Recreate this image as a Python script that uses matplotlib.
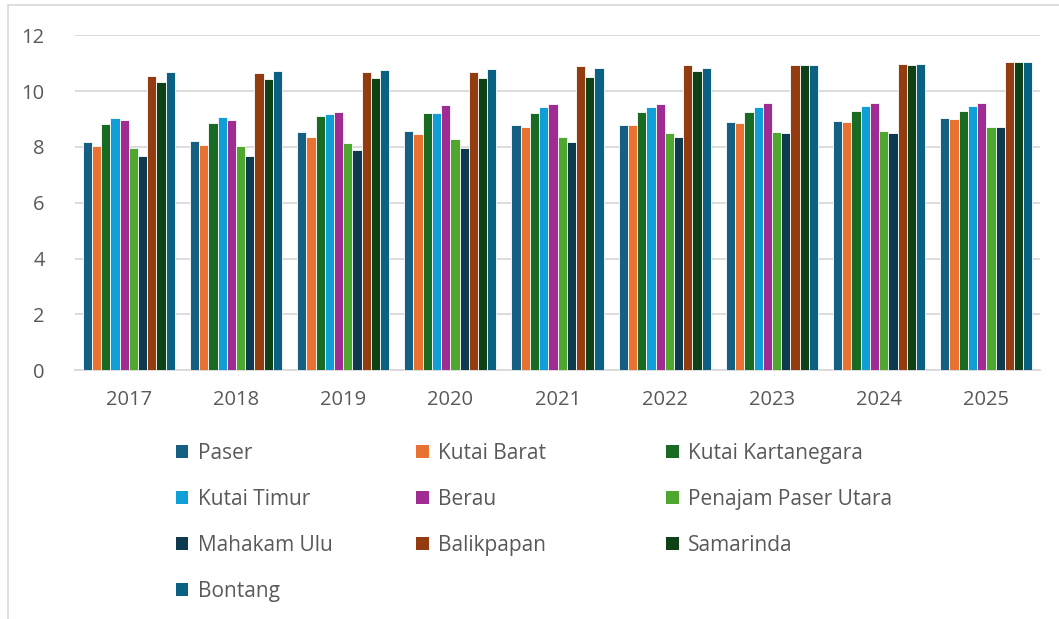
import numpy as np
import matplotlib
matplotlib.use("Agg")
import matplotlib.pyplot as plt
from matplotlib.patches import Patch, Rectangle

plt.rcParams["font.family"] = ["Open Sans", "DejaVu Sans"]

years = ["2017", "2018", "2019", "2020", "2021", "2022", "2023", "2024", "2025"]

regions = ["Paser", "Kutai Barat", "Kutai Kartanegara", "Kutai Timur", "Berau",
           "Penajam Paser Utara", "Mahakam Ulu", "Balikpapan", "Samarinda", "Bontang"]

paser      = [8.18, 8.21, 8.54, 8.56, 8.78, 8.80, 8.90, 8.92, 9.04]
kutai_bar  = [8.04, 8.06, 8.34, 8.46, 8.71, 8.78, 8.85, 8.88, 9.00]
kutai_kar  = [8.82, 8.84, 9.10, 9.22, 9.22, 9.25, 9.26, 9.28, 9.28]
kutai_tim  = [9.04, 9.08, 9.18, 9.20, 9.42, 9.44, 9.44, 9.47, 9.48]
berau      = [8.95, 8.97, 9.25, 9.50, 9.52, 9.55, 9.57, 9.58, 9.59]
ppu        = [7.95, 8.03, 8.15, 8.27, 8.35, 8.50, 8.53, 8.58, 8.72]
mahakam    = [7.67, 7.69, 7.89, 7.96, 8.18, 8.35, 8.49, 8.51, 8.71]
balikpapan = [10.54, 10.65, 10.67, 10.68, 10.91, 10.92, 10.94, 10.98, 11.04]
samarinda  = [10.32, 10.45, 10.47, 10.48, 10.49, 10.71, 10.94, 10.95, 11.04]
bontang    = [10.68, 10.72, 10.74, 10.79, 10.81, 10.82, 10.92, 10.97, 11.03]

series = [paser, kutai_bar, kutai_kar, kutai_tim, berau, ppu, mahakam,
          balikpapan, samarinda, bontang]

colors = ["#156082", "#E97132", "#196B24", "#0F9ED5", "#A02B93",
          "#4EA72E", "#0D3A4E", "#923C10", "#0F4117", "#0A6183"]

TXT = "#595959"

fig = plt.figure(figsize=(10.59, 6.19), dpi=100)
ax = fig.add_axes([0.071, 0.402, 0.911, 0.541])

x = np.arange(len(years))
n = len(series)
group_w = 0.86
bw = group_w / n
for i, (vals, c) in enumerate(zip(series, colors)):
    ax.bar(x - group_w / 2 + bw * (i + 0.5), vals, width=bw, color=c,
           edgecolor="white", linewidth=0.6, zorder=3)

ax.set_xlim(-0.5, len(years) - 0.5)
ax.set_ylim(0, 12)
ax.set_yticks(range(0, 13, 2))
ax.set_xticks(x)
ax.set_xticklabels(years)
ax.grid(axis="y", color="#D9D9D9", linewidth=1.3, zorder=0)
for s in ["top", "right", "left"]:
    ax.spines[s].set_visible(False)
ax.spines["bottom"].set_color("#D9D9D9")
ax.spines["bottom"].set_linewidth(1.3)
ax.tick_params(axis="both", length=0, labelsize=14.5, colors=TXT)
ax.tick_params(axis="x", pad=14)
ax.tick_params(axis="y", pad=22)

# legend in three columns, filled row by row
handles = [Patch(facecolor=c, label=r) for c, r in zip(colors, regions)]
col_x = [0.166, 0.393, 0.629]
for j in range(3):
    hs = handles[j::3]
    fig.legend(handles=hs, loc="upper left", bbox_to_anchor=(col_x[j], 0.285),
               frameon=False, fontsize=15, labelcolor=TXT, handlelength=0.6,
               handleheight=0.6, handletextpad=0.45, labelspacing=1.2,
               borderaxespad=0, borderpad=0)

# chart border
fig.patches.append(Rectangle((8 / 1059, -0.01), 1.0, 1 - 5 / 619 + 0.01,
                             transform=fig.transFigure, fill=False,
                             edgecolor="#D9D9D9", linewidth=1.2))

fig.savefig("out.png", dpi=100)
